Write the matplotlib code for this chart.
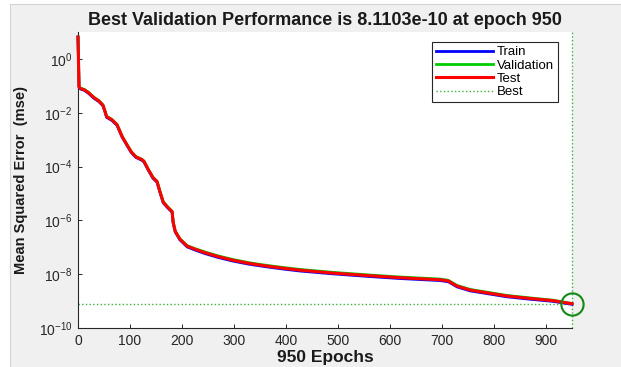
import matplotlib
matplotlib.use('Agg')
import matplotlib.pyplot as plt
from matplotlib.patches import Rectangle
from matplotlib.ticker import FixedLocator, NullLocator

# values
epochs = [0, 2, 5, 12, 20, 31, 40, 48, 52, 55, 65, 75, 85, 94, 102, 111,
          123, 127, 135, 144, 152, 158, 164, 173, 181, 183, 187, 196, 210,
          225, 244, 270, 298, 330, 363, 400, 427, 490, 556, 619, 696, 712,
          729, 754, 786, 824, 868, 913, 950]

train_mse = [6.5, 0.087, 0.076, 0.068, 0.053, 0.034, 0.026, 0.018, 0.0106,
             0.0067, 0.0052, 0.0034, 0.00122, 6.2e-4, 3.4e-4, 2.2e-4, 1.7e-4,
             1.47e-4, 7.4e-5, 3.7e-5, 2.6e-5, 1.04e-5, 4.45e-6, 2.85e-6,
             2.0e-6, 8.0e-7, 3.7e-7, 1.88e-7, 1.03e-7, 7.9e-8,
             5.85e-8, 4.15e-8, 3.07e-8, 2.33e-8, 1.87e-8, 1.51e-8, 1.31e-8,
             1.03e-8, 8.3e-9, 6.9e-9, 5.8e-9, 5.25e-9, 3.37e-9, 2.4e-9,
             1.91e-9, 1.45e-9, 1.18e-9, 9.8e-10, 7.6e-10]

val_mse = [6.5, 0.094, 0.082, 0.074, 0.058, 0.037, 0.0285, 0.0197, 0.0116,
           0.0074, 0.0057, 0.0037, 0.00134, 6.7e-4, 3.7e-4, 2.37e-4, 1.86e-4,
           1.6e-4, 8.1e-5, 4.05e-5, 2.85e-5, 1.14e-5, 4.9e-6, 3.1e-6, 2.18e-6,
           8.8e-7, 4.05e-7, 2.08e-7, 1.15e-7, 8.9e-8,
           6.7e-8, 4.75e-8, 3.5e-8, 2.65e-8, 2.12e-8, 1.72e-8, 1.5e-8,
           1.17e-8, 9.45e-9, 7.85e-9, 6.6e-9, 5.95e-9, 3.82e-9, 2.72e-9,
           2.15e-9, 1.63e-9, 1.32e-9, 1.08e-9, 8.11e-10]

test_mse = [6.5, 0.091, 0.079, 0.071, 0.056, 0.036, 0.0275, 0.019, 0.0112,
            0.0071, 0.0055, 0.0036, 0.00129, 6.5e-4, 3.6e-4, 2.3e-4, 1.8e-4,
            1.55e-4, 7.8e-5, 3.9e-5, 2.75e-5, 1.1e-5, 4.7e-6, 3.0e-6, 2.1e-6,
            8.5e-7, 3.9e-7, 2.0e-7, 1.1e-7, 8.5e-8,
            6.3e-8, 4.47e-8, 3.3e-8, 2.5e-8, 2.0e-8, 1.62e-8, 1.41e-8,
            1.1e-8, 8.9e-9, 7.4e-9, 6.2e-9, 5.6e-9, 3.6e-9, 2.57e-9,
            2.04e-9, 1.55e-9, 1.26e-9, 1.04e-9, 8.0e-10]

best_epoch = 950
best_perf = 8.1103e-10

xticks = [0, 100, 200, 300, 400, 500, 600, 700, 800, 900]
yticks = [1e-10, 1e-8, 1e-6, 1e-4, 1e-2, 1e0]

plt.rcParams['font.family'] = ['Liberation Sans', 'DejaVu Sans']
plt.rcParams['mathtext.fontset'] = 'custom'
plt.rcParams['mathtext.rm'] = 'Liberation Sans'
plt.rcParams['mathtext.it'] = 'Liberation Sans:italic'
plt.rcParams['mathtext.bf'] = 'Liberation Sans:bold'
plt.rcParams['mathtext.default'] = 'regular'
plt.rcParams['axes.unicode_minus'] = False

dark = '#262626'

fig = plt.figure(figsize=(6.21, 3.67), dpi=100)
fig.patch.set_facecolor('white')
# grey window background as in the screenshot
fig.patches.append(Rectangle((10 / 621, -0.01), 1, (367 - 3.5) / 367 + 0.01,
                             transform=fig.transFigure, facecolor='#f0f0f0',
                             edgecolor='#d4d4d4', linewidth=0.8, zorder=-10))

ax = fig.add_axes([78 / 621, 39 / 367, 494 / 621, 296 / 367])
ax.set_facecolor('white')

ax.semilogy(epochs, train_mse, color='#0000ff', lw=2, label='Train',
            clip_on=False, zorder=3)
ax.semilogy(epochs, val_mse, color='#00cc00', lw=2, label='Validation',
            clip_on=False, zorder=3)
ax.semilogy(epochs, test_mse, color='#ff0000', lw=2.2, label='Test',
            clip_on=False, zorder=3)
ax.plot([0, best_epoch], [best_perf, best_perf], ls=':', lw=1,
        color='#3cb43c', label='Best')
ax.plot([best_epoch, best_epoch], [1e-10, 1e1], ls=':', lw=1,
        color='#3cb43c', clip_on=False)
ax.plot([best_epoch], [best_perf], marker='o', ms=16, mfc='none',
        mec='#138a13', mew=1.5, clip_on=False, zorder=5)

ax.set_xlim(0, 950)
ax.set_ylim(1e-10, 1e1)
ax.xaxis.set_major_locator(FixedLocator(xticks))
ax.yaxis.set_major_locator(FixedLocator(yticks))
ax.yaxis.set_minor_locator(NullLocator())

ax.spines[['right', 'top']].set_visible(False)
for s in ['left', 'bottom']:
    ax.spines[s].set_color(dark)
    ax.spines[s].set_linewidth(0.8)
ax.tick_params(direction='in', length=3, width=0.7, color=dark,
               labelcolor=dark, labelsize=10)
ax.tick_params(axis='x', pad=4)
ax.tick_params(axis='y', pad=4)

ax.set_title('Best Validation Performance is 8.1103e-10 at epoch 950',
             fontsize=13, fontweight='bold', color='#1a1a1a', pad=5)
ax.set_xlabel('950 Epochs', fontsize=12.5, fontweight='bold', color='#1a1a1a')
ax.set_ylabel('Mean Squared Error  (mse)', fontsize=10.5,
              fontweight='bold', color='#1a1a1a')
ax.xaxis.set_label_coords(0.5, -0.075)
ax.yaxis.set_label_coords(-0.101, 0.5)

leg = ax.legend(loc='upper right', bbox_to_anchor=(0.972, 0.966),
                borderaxespad=0, fontsize=9.5, fancybox=False, framealpha=1,
                edgecolor=dark, borderpad=0.3, labelspacing=0.08,
                handlelength=4.3, handletextpad=0.3)
leg.get_frame().set_linewidth(0.8)

plt.savefig('out.png', dpi=100)
